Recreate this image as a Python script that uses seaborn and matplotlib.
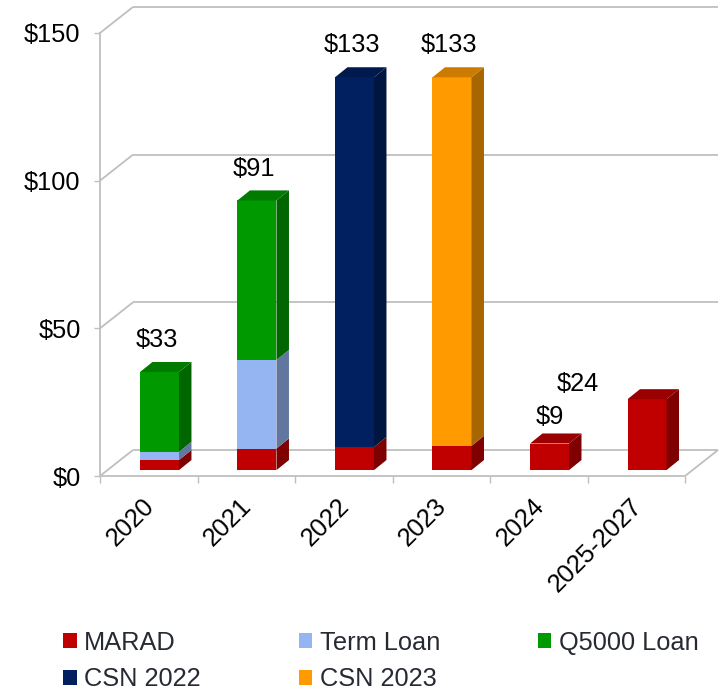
import matplotlib
matplotlib.use("Agg")
import matplotlib.pyplot as plt
import numpy as np
import pandas as pd
import seaborn as sns
from matplotlib.patches import Polygon, Patch
from matplotlib.colors import to_rgb
from matplotlib.transforms import ScaledTranslation

# chart values (in $ millions)
years = ["2020", "2021", "2022", "2023", "2024", "2025-2027"]
marad = [3.4, 7.3, 7.8, 8.2, 9.0, 24.0]
term_loan = [2.8, 30.0, 0, 0, 0, 0]
q5000_loan = [27.0, 54.0, 0, 0, 0, 0]
csn_2022 = [0, 0, 125.2, 0, 0, 0]
csn_2023 = [0, 0, 0, 124.8, 0, 0]

series = ["MARAD", "Term Loan", "Q5000 Loan", "CSN 2022", "CSN 2023"]
colors = ["#C00000", "#95B5F2", "#009A00", "#002060", "#FF9A00"]
y_ticks = [0, 50, 100, 150]

wide = pd.DataFrame({"year": years, "MARAD": marad, "Term Loan": term_loan,
                     "Q5000 Loan": q5000_loan, "CSN 2022": csn_2022,
                     "CSN 2023": csn_2023})
cum = wide[series].cumsum(axis=1)
totals = cum[series[-1]]

long = wide.melt(id_vars="year", var_name="series", value_name="value")
long["top"] = cum.assign(year=years).melt(id_vars="year")["value"].values
long = long[long["value"] > 0]

# fake 3d geometry (data units)
DX, DY = 0.338, 8.8          # depth of floor / walls
SHIFT, BASE = 0.11, 2.0      # where the bar fronts sit on the floor
BW = 0.40                    # bar width
BDX, BDY = 0.128, 3.4        # bar depth
GRID = "#BFBFBF"
FS = 18.3

sns.set_theme(style="white")
plt.rcParams["font.family"] = ["Liberation Sans", "DejaVu Sans"]

fig = plt.figure(figsize=(7.24, 6.96), dpi=100)
ax = fig.add_axes([100 / 724, 220 / 696, 618 / 724, 469 / 696])

# front faces: cumulative tops, drawn from the top of the stack down
sns.barplot(data=long, x="year", y="top", hue="series", order=years,
            hue_order=series[::-1], palette=dict(zip(series, colors)),
            dodge=False, width=BW, saturation=1, linewidth=0,
            errorbar=None, legend=False, ax=ax, zorder=3)
for p in ax.patches:
    p.set_x(p.get_x() + SHIFT)
    p.set_y(p.get_y() + BASE)


def shade(c, f):
    return tuple(np.array(to_rgb(c)) * f)


# side and top faces
for i, yr in enumerate(years):
    x0 = i + SHIFT - BW / 2
    x1 = i + SHIFT + BW / 2
    bottom = 0
    for s, c in zip(series, colors):
        v = wide.loc[i, s]
        if v <= 0:
            continue
        b, t = bottom + BASE, bottom + v + BASE
        ax.add_patch(Polygon([(x1, b), (x1 + BDX, b + BDY), (x1 + BDX, t + BDY), (x1, t)],
                             closed=True, fc=shade(c, 0.66), ec="none", zorder=3))
        top_c = c
        bottom += v
    T = bottom + BASE
    ax.add_patch(Polygon([(x0, T), (x0 + BDX, T + BDY), (x1 + BDX, T + BDY), (x1, T)],
                         closed=True, fc=shade(top_c, 0.8), ec="none", zorder=3))

# value labels (excel put a couple of them somewhere odd)
for i, t in enumerate(totals):
    off = (-2, 23)
    if years[i] == "2024":
        off = (0, 19)
    elif i == len(years) - 1:
        off = (-50, 11)
    ax.annotate(f"${t:.0f}", xy=(i + SHIFT, t + BASE), xytext=off,
                textcoords="offset points", ha="center", va="center",
                fontsize=FS, color="black")

# floor, back wall and side gridlines
left, right = -0.5, len(years) - 0.5
kw = dict(color=GRID, lw=1.3, zorder=1, clip_on=False, solid_capstyle="butt")
ax.plot([left, right], [0, 0], **kw)
ax.plot([right, right + DX], [0, DY], **kw)
for v in y_ticks:
    ax.plot([left + DX, right + DX], [v + DY, v + DY], **kw)
    ax.plot([left, left + DX], [v, v + DY], **kw)

ax.set_xlim(left, right + DX)
ax.set_ylim(0, 150 + DY)
for side in ["top", "right", "bottom"]:
    ax.spines[side].set_visible(False)
ax.spines["left"].set_bounds(0, 150)
ax.spines["left"].set_color(GRID)
ax.spines["left"].set_linewidth(1.3)

ax.set_yticks(y_ticks, labels=[f"${v}" for v in y_ticks])
ax.tick_params(axis="y", length=4, width=1, color=GRID, pad=10, labelsize=FS,
               labelcolor="black", direction="out", left=True)
ax.set_xticks(range(len(years)), labels=years)
ax.set_xticks(np.arange(-0.5, len(years)), minor=True)
ax.tick_params(axis="x", which="major", length=0, pad=13, labelsize=FS,
               labelcolor="black")
ax.tick_params(axis="x", which="minor", length=5, width=1, color=GRID,
               direction="out", bottom=True)
nudge = ScaledTranslation(-5 / 72, 0, fig.dpi_scale_trans)
for lab in ax.get_xticklabels():
    lab.set_rotation(45)
    lab.set_ha("right")
    lab.set_va("top")
    lab.set_rotation_mode("anchor")
    lab.set_transform(lab.get_transform() + nudge)
ax.set_xlabel("")
ax.set_ylabel("")

# legend, filled column by column so it reads row by row
order = [0, 3, 1, 4, 2]
handles = [Patch(fc=colors[k], ec="none") for k in order]
fig.legend(handles, [series[k] for k in order], ncol=3, loc="upper left",
           bbox_to_anchor=(0.07, 0.112), frameon=False, fontsize=FS,
           handlelength=0.52, handleheight=0.52, handletextpad=0.3,
           columnspacing=3.85, labelspacing=0.5, borderpad=0,
           labelcolor="#262A33")

fig.savefig("out.png", dpi=100)
